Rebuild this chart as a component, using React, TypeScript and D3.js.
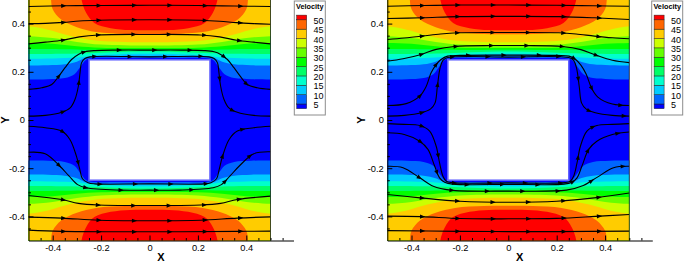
import React, { useEffect, useRef } from "react";
import * as d3 from "d3";

type Pt = [number, number];

// ---- data ---------------------------------------------------------------
const velocityLevels = [5, 10, 15, 20, 25, 30, 35, 40, 45, 50];
const axisTicks = [-0.4, -0.2, 0, 0.2, 0.4];
const legendTitle = "Velocity";
const xTitle = "X";
const yTitle = "Y";

// contour lines of velocity in the upper-left quadrant (x <= 0, y >= 0);
// the field is mirrored about x = 0 and y = 0
const level5: Pt[] = [[-0.5, 0.168], [-0.42, 0.169], [-0.35, 0.174], [-0.31, 0.19], [-0.285, 0.222], [-0.263, 0.249], [-0.24, 0.256], [-0.12, 0.257], [0, 0.257]];
const level10: Pt[] = [[-0.5, 0.226], [-0.42, 0.227], [-0.35, 0.231], [-0.3, 0.242], [-0.27, 0.256], [-0.24, 0.263], [-0.12, 0.266], [0, 0.266]];
const level15: Pt[] = [[-0.5, 0.254], [-0.4, 0.255], [-0.3, 0.259], [-0.25, 0.265], [-0.2, 0.27], [-0.1, 0.274], [0, 0.275]];
const level20: Pt[] = [[-0.5, 0.274], [-0.35, 0.275], [-0.25, 0.277], [-0.15, 0.281], [0, 0.284]];
const level25: Pt[] = [[-0.5, 0.295], [-0.35, 0.294], [-0.25, 0.291], [-0.15, 0.29], [0, 0.291]];
const level30: Pt[] = [[-0.5, 0.32], [-0.4, 0.316], [-0.3, 0.306], [-0.2, 0.3], [0, 0.299]];
const level35: Pt[] = [[-0.5, 0.348], [-0.4, 0.34], [-0.3, 0.324], [-0.2, 0.313], [0, 0.309]];
const level40: Pt[] = [[-0.5, 0.389], [-0.42, 0.375], [-0.33, 0.35], [-0.22, 0.33], [-0.1, 0.324], [0, 0.323]];
const level45: Pt[] = [[-0.407, 0.5], [-0.4, 0.46], [-0.365, 0.417], [-0.3, 0.385], [-0.22, 0.365], [-0.1, 0.357], [0, 0.356]];
const level50: Pt[] = [[-0.281, 0.5], [-0.262, 0.445], [-0.228, 0.403], [-0.16, 0.381], [-0.08, 0.373], [0, 0.372]];
const contourLines: Pt[][] = [level5, level10, level15, level20, level25, level30, level35, level40, level45, level50];

const obstacleHalf = 0.25;

// streamlines, left panel
const lStream1: Pt[] = [[-0.5, 0.471], [-0.35, 0.474], [-0.2, 0.475], [0, 0.476], [0.2, 0.475], [0.35, 0.473], [0.5, 0.471]];
const lStream2: Pt[] = [[-0.5, 0.4], [-0.43, 0.401], [-0.355, 0.405], [-0.29, 0.411], [-0.21, 0.414], [0, 0.416], [0.21, 0.414], [0.29, 0.41], [0.36, 0.404], [0.43, 0.4], [0.5, 0.397]];
const lStream3: Pt[] = [[-0.5, 0.316], [-0.43, 0.323], [-0.36, 0.331], [-0.29, 0.345], [-0.21, 0.353], [0, 0.355], [0.21, 0.353], [0.29, 0.345], [0.36, 0.331], [0.43, 0.323], [0.5, 0.316]];
const lStream4: Pt[] = [[-0.5, 0.127], [-0.445, 0.134], [-0.404, 0.147], [-0.377, 0.179], [-0.349, 0.217], [-0.322, 0.251], [-0.294, 0.272], [-0.267, 0.283], [-0.226, 0.288], [-0.13, 0.29], [0, 0.29], [0.13, 0.29], [0.226, 0.288], [0.267, 0.283], [0.294, 0.272], [0.322, 0.251], [0.349, 0.217], [0.377, 0.179], [0.404, 0.147], [0.445, 0.134], [0.5, 0.127]];
const lStream5: Pt[] = [[-0.5, 0.016], [-0.431, 0.019], [-0.363, 0.032], [-0.328, 0.05], [-0.308, 0.085], [-0.294, 0.14], [-0.287, 0.196], [-0.281, 0.237], [-0.267, 0.255], [-0.246, 0.262], [0, 0.262], [0.246, 0.262], [0.267, 0.255], [0.281, 0.237], [0.287, 0.196], [0.294, 0.14], [0.308, 0.085], [0.328, 0.05], [0.363, 0.032], [0.431, 0.019], [0.5, 0.016]];
const lStream6: Pt[] = [[-0.5, -0.026], [-0.431, -0.032], [-0.363, -0.046], [-0.329, -0.081], [-0.302, -0.15], [-0.288, -0.205], [-0.277, -0.244], [-0.254, -0.26], [-0.226, -0.265], [0, -0.265], [0.226, -0.265], [0.254, -0.26], [0.277, -0.244], [0.288, -0.205], [0.302, -0.15], [0.329, -0.081], [0.363, -0.046], [0.431, -0.032], [0.5, -0.026]];
const lStream7: Pt[] = [[-0.5, -0.134], [-0.431, -0.14], [-0.37, -0.192], [-0.332, -0.233], [-0.297, -0.268], [-0.263, -0.281], [-0.124, -0.291], [0, -0.291], [0.124, -0.291], [0.263, -0.281], [0.297, -0.268], [0.332, -0.233], [0.37, -0.192], [0.431, -0.14], [0.5, -0.132]];
const lStream8: Pt[] = [[-0.5, -0.313], [-0.363, -0.33], [-0.294, -0.346], [-0.212, -0.353], [0, -0.355], [0.212, -0.353], [0.294, -0.346], [0.363, -0.33], [0.5, -0.316]];
const lStream9: Pt[] = [[-0.5, -0.403], [-0.363, -0.407], [-0.21, -0.416], [0, -0.418], [0.21, -0.416], [0.363, -0.407], [0.5, -0.402]];
const lStream10: Pt[] = [[-0.5, -0.457], [-0.363, -0.462], [0, -0.464], [0.363, -0.462], [0.5, -0.461]];
const leftStreamlines = [lStream1, lStream2, lStream3, lStream4, lStream5, lStream6, lStream7, lStream8, lStream9, lStream10];

// streamlines, right panel
const rStream1: Pt[] = [[-0.5, 0.472], [-0.35, 0.475], [-0.2, 0.477], [0, 0.477], [0.2, 0.476], [0.35, 0.474], [0.5, 0.472]];
const rStream2: Pt[] = [[-0.5, 0.421], [-0.356, 0.424], [-0.209, 0.429], [0, 0.43], [0.209, 0.429], [0.356, 0.424], [0.5, 0.417]];
const rStream3: Pt[] = [[-0.5, 0.334], [-0.43, 0.34], [-0.356, 0.348], [-0.28, 0.357], [-0.209, 0.362], [0, 0.363], [0.209, 0.362], [0.28, 0.357], [0.356, 0.348], [0.43, 0.341], [0.5, 0.337]];
const rStream4: Pt[] = [[-0.5, 0.244], [-0.435, 0.254], [-0.36, 0.272], [-0.298, 0.293], [-0.223, 0.305], [-0.064, 0.309], [0.064, 0.309], [0.223, 0.305], [0.3, 0.292], [0.36, 0.27], [0.43, 0.248], [0.5, 0.238]];
const rStream5: Pt[] = [[-0.5, 0.06], [-0.422, 0.068], [-0.366, 0.099], [-0.339, 0.14], [-0.319, 0.196], [-0.298, 0.23], [-0.278, 0.251], [-0.251, 0.265], [-0.2, 0.268], [0, 0.269], [0.2, 0.268], [0.251, 0.265], [0.278, 0.251], [0.3, 0.228], [0.322, 0.19], [0.343, 0.135], [0.37, 0.095], [0.43, 0.066], [0.5, 0.06]];
const rStream6: Pt[] = [[-0.5, 0.016], [-0.43, 0.019], [-0.36, 0.03], [-0.322, 0.045], [-0.303, 0.07], [-0.293, 0.14], [-0.282, 0.215], [-0.27, 0.247], [-0.25, 0.259], [0, 0.261], [0.25, 0.259], [0.27, 0.247], [0.282, 0.215], [0.293, 0.14], [0.303, 0.07], [0.322, 0.045], [0.36, 0.03], [0.43, 0.019], [0.5, 0.016]];
const rStream7: Pt[] = [[-0.5, -0.015], [-0.43, -0.018], [-0.366, -0.023], [-0.325, -0.046], [-0.298, -0.109], [-0.284, -0.178], [-0.27, -0.233], [-0.256, -0.254], [-0.235, -0.26], [0, -0.261], [0.235, -0.26], [0.256, -0.254], [0.27, -0.233], [0.284, -0.178], [0.298, -0.109], [0.325, -0.046], [0.366, -0.023], [0.43, -0.018], [0.5, -0.015]];
const rStream8: Pt[] = [[-0.5, -0.053], [-0.43, -0.06], [-0.366, -0.088], [-0.332, -0.122], [-0.304, -0.192], [-0.284, -0.24], [-0.263, -0.258], [-0.23, -0.266], [0, -0.267], [0.23, -0.266], [0.263, -0.258], [0.284, -0.24], [0.304, -0.192], [0.332, -0.122], [0.366, -0.088], [0.43, -0.06], [0.5, -0.05]];
const rStream9: Pt[] = [[-0.5, -0.192], [-0.435, -0.198], [-0.366, -0.24], [-0.31, -0.275], [-0.24, -0.291], [0, -0.295], [0.24, -0.291], [0.31, -0.272], [0.37, -0.236], [0.435, -0.198], [0.5, -0.192]];
const rStream10: Pt[] = [[-0.5, -0.309], [-0.364, -0.323], [-0.2, -0.337], [0, -0.341], [0.2, -0.337], [0.364, -0.322], [0.5, -0.303]];
const rStream11: Pt[] = [[-0.5, -0.399], [-0.36, -0.401], [-0.2, -0.409], [0, -0.41], [0.2, -0.408], [0.36, -0.4], [0.5, -0.392]];
const rStream12: Pt[] = [[-0.5, -0.459], [-0.2, -0.462], [0, -0.463], [0.2, -0.463], [0.5, -0.461]];
const rightStreamlines = [rStream1, rStream2, rStream3, rStream4, rStream5, rStream6, rStream7, rStream8, rStream9, rStream10, rStream11, rStream12];

// ---- layout -------------------------------------------------------------
const W = 685;
const H = 261;
const panels = [
  { left: 28.5, legendX: 294.3, yTitleX: 9.2, streams: leftStreamlines },
  { left: 387.3, legendX: 651.7, yTitleX: 365, streams: rightStreamlines },
];
const FONT = "'Liberation Sans', Arial, Helvetica, sans-serif";
const rainbow = d3.piecewise(d3.interpolateRgb, ["#0000ff", "#00ffff", "#00ff00", "#ffff00", "#ff0000"]);
const bandColor = (k: number) => rainbow(k / velocityLevels.length);
const fmt = (d: any) => String(+d);

export default function App() {
  const ref = useRef<SVGSVGElement>(null);

  useEffect(() => {
    const svg = d3.select(ref.current as SVGSVGElement);
    svg.selectAll("*").remove();
    const defs = svg.append("defs");

    panels.forEach((p, pi) => {
      const x = d3.scaleLinear().domain([-0.5, 0.5]).range([p.left, p.left + 242]);
      const y = d3.scaleLinear().domain([-0.5, 0.5]).range([240.5, -0.5]);
      const clipId = "plotclip" + pi;
      defs.append("clipPath").attr("id", clipId).append("rect")
        .attr("x", x(-0.5)).attr("y", y(0.5))
        .attr("width", x(0.5) - x(-0.5)).attr("height", y(-0.5) - y(0.5));

      const field = svg.append("g").attr("clip-path", `url(#${clipId})`);
      field.append("rect")
        .attr("x", x(-0.5)).attr("y", y(0.5))
        .attr("width", x(0.5) - x(-0.5)).attr("height", y(-0.5) - y(0.5))
        .attr("fill", bandColor(0));

      const curve = d3.line<Pt>().x((d) => x(d[0])).y((d) => y(d[1])).curve(d3.curveCatmullRom.alpha(0.5));

      contourLines.forEach((quad, i) => {
        const half: Pt[] = [...quad, ...quad.slice(0, -1).reverse().map(([a, b]) => [-a, b] as Pt)];
        [1, -1].forEach((sgn) => {
          const pts: Pt[] = half.map(([a, b]) => [a, b * sgn] as Pt);
          const f = pts[0];
          const l = pts[pts.length - 1];
          const startExt: Pt = Math.abs(f[0]) > 0.499 ? [-0.56, f[1]] : [f[0] - 0.003, 0.56 * sgn];
          const endExt: Pt = Math.abs(l[0]) > 0.499 ? [0.56, l[1]] : [l[0] + 0.003, 0.56 * sgn];
          const d = (curve([startExt, ...pts, endExt]) as string) +
            `L${x(0.6)},${y(0.6 * sgn)}L${x(-0.6)},${y(0.6 * sgn)}Z`;
          field.append("path").attr("d", d).attr("fill", bandColor(i + 1));
        });
      });

      // obstacle
      field.append("rect")
        .attr("x", x(-obstacleHalf)).attr("y", y(obstacleHalf))
        .attr("width", x(obstacleHalf) - x(-obstacleHalf))
        .attr("height", y(-obstacleHalf) - y(obstacleHalf))
        .attr("fill", "#ffffff").attr("stroke", "#6262ff").attr("stroke-width", 1.6);

      // streamlines with arrowheads
      p.streams.forEach((s) => {
        const path = field.append("path").attr("d", curve(s) as string)
          .attr("fill", "none").attr("stroke", "#000").attr("stroke-width", 1.1);
        const node = path.node() as SVGPathElement;
        const L = node.getTotalLength();
        for (let t = 35; t < L - 4; t += 35.4) {
          const a = node.getPointAtLength(Math.max(0, t - 1));
          const b = node.getPointAtLength(Math.min(L, t + 1));
          const c = node.getPointAtLength(t);
          const ang = (Math.atan2(b.y - a.y, b.x - a.x) * 180) / Math.PI;
          field.append("path").attr("d", "M3,0L-2.3,-2.1L-2.3,2.1Z")
            .attr("transform", `translate(${c.x},${c.y}) rotate(${ang})`)
            .attr("fill", "#000");
        }
      });

      // right edge of the data region
      svg.append("line")
        .attr("x1", x(0.5)).attr("x2", x(0.5)).attr("y1", y(0.5)).attr("y2", y(-0.5))
        .attr("stroke", "#222").attr("stroke-width", 0.8);

      // axes
      const xa = d3.scaleLinear().domain([-0.5, 0.595]).range([x(-0.5), x(0.595)]);
      const minorX = d3.range(-9, 12).map((k) => k * 0.05).filter((v) => Math.abs((v * 5) - Math.round(v * 5)) > 1e-6 || Math.abs(v) > 0.45);
      const gxm = svg.append("g").attr("transform", `translate(0,${y(-0.5)})`);
      gxm.call(d3.axisBottom(xa).tickValues(minorX).tickSize(-2.5).tickSizeOuter(0).tickFormat(() => ""));
      gxm.select(".domain").remove();
      const gx = svg.append("g").attr("transform", `translate(0,${y(-0.5)})`);
      gx.call(d3.axisBottom(xa).tickValues(axisTicks).tickSize(-5).tickSizeOuter(0).tickPadding(4).tickFormat(fmt));
      gx.attr("font-size", 9.3).attr("font-family", FONT);

      const minorY = d3.range(-9, 10).map((k) => k * 0.05).filter((v) => Math.abs((v * 5) - Math.round(v * 5)) > 1e-6);
      const gym = svg.append("g").attr("transform", `translate(${x(-0.5)},0)`);
      gym.call(d3.axisLeft(y).tickValues(minorY).tickSize(-2.5).tickSizeOuter(0).tickFormat(() => ""));
      gym.select(".domain").remove();
      const gy = svg.append("g").attr("transform", `translate(${x(-0.5)},0)`);
      gy.call(d3.axisLeft(y).tickValues(axisTicks).tickSize(-5).tickSizeOuter(0).tickPadding(3.5).tickFormat(fmt));
      gy.attr("font-size", 9.3).attr("font-family", FONT);

      svg.append("text").text(xTitle)
        .attr("x", xa((-0.5 + 0.595) / 2)).attr("y", 260.5)
        .attr("text-anchor", "middle").attr("font-weight", "bold")
        .attr("font-size", 11).attr("font-family", FONT);
      svg.append("text").text(yTitle)
        .attr("transform", `translate(${p.yTitleX},${y(0)}) rotate(-90)`)
        .attr("text-anchor", "middle").attr("font-weight", "bold")
        .attr("font-size", 11).attr("font-family", FONT);

      // legend
      const lx = p.legendX;
      const lg = svg.append("g").attr("font-family", FONT);
      lg.append("rect").attr("x", lx).attr("y", 1).attr("width", 31).attr("height", 114)
        .attr("fill", "#fff").attr("stroke", "#8c8c8c").attr("stroke-width", 1);
      lg.append("text").text(legendTitle).attr("x", lx + 15.5).attr("y", 8.8)
        .attr("text-anchor", "middle").attr("font-weight", "bold").attr("font-size", 7.3);
      const ly = d3.scaleLinear().domain([50, 5]).range([19.8, 104]);
      for (let k = 0; k <= velocityLevels.length; k++) {
        const upper = k < velocityLevels.length ? velocityLevels[k] : 52.5;
        const lower = k > 0 ? velocityLevels[k - 1] : 2.5;
        lg.append("rect").attr("x", lx + 2.4).attr("y", ly(upper)).attr("width", 10)
          .attr("height", ly(lower) - ly(upper))
          .attr("fill", bandColor(k)).attr("stroke", "#222").attr("stroke-width", 0.5);
      }
      velocityLevels.forEach((v) => {
        lg.append("text").text(String(v)).attr("x", lx + 19.3).attr("y", ly(v) + 4)
          .attr("font-size", 9).attr("fill", "#000");
      });
    });
  }, []);

  return (
    <svg
      ref={ref}
      width={W}
      height={H}
      viewBox={`0 0 ${W} ${H}`}
      style={{ position: "absolute", left: 0, top: 0, background: "#fff" }}
    />
  );
}
